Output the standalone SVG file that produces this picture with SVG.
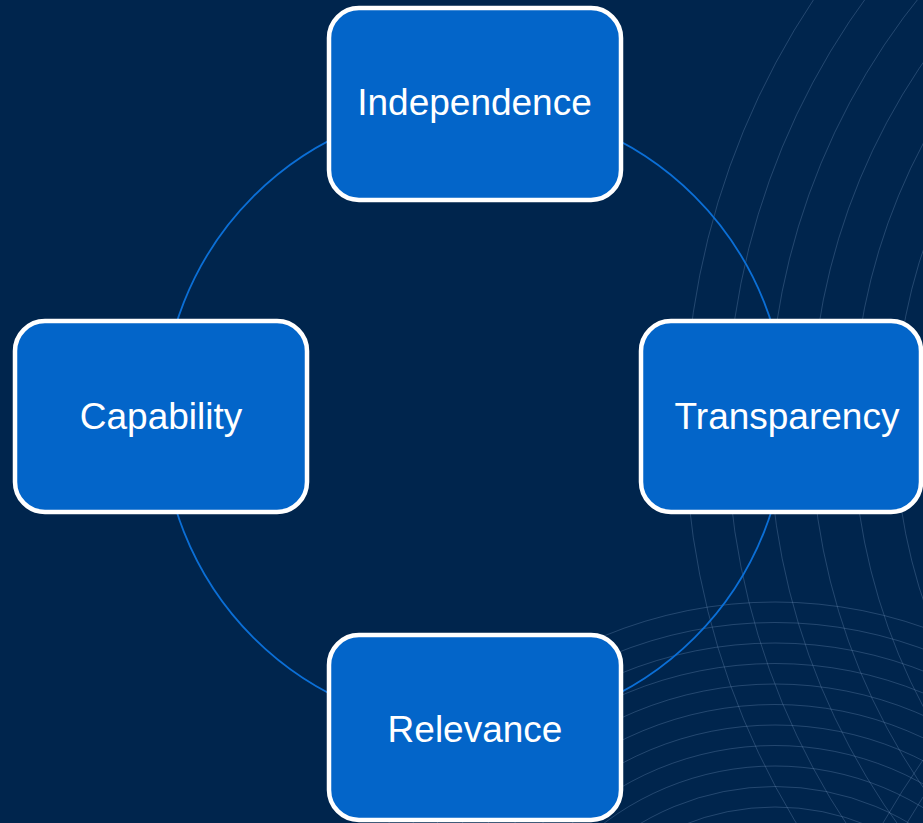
<svg xmlns="http://www.w3.org/2000/svg" width="923" height="823" viewBox="0 0 923 823">
  <style>
    .bg-line { fill: none; stroke: #8fb0d8; stroke-width: 1; opacity: 0.25; }
    .node rect { fill: #0365c9; stroke: #ffffff; stroke-width: 4.5; }
    .node text { fill: #ffffff; font-family: "Liberation Sans", Arial, sans-serif; font-size: 37px; text-anchor: middle; }
    .ring { fill: none; stroke: #0b6fd6; stroke-width: 1.8; }
  </style>
  <rect x="0" y="0" width="923" height="823" fill="#00254d"/>
  <g id="background">
    <circle class="bg-line" cx="1453" cy="425" r="768"/>
    <circle class="bg-line" cx="1453" cy="425" r="726"/>
    <circle class="bg-line" cx="1453" cy="425" r="684"/>
    <circle class="bg-line" cx="1453" cy="425" r="642"/>
    <circle class="bg-line" cx="1453" cy="425" r="600"/>
    <circle class="bg-line" cx="1453" cy="425" r="558"/>
    <circle class="bg-line" cx="1453" cy="425" r="516"/>
    <circle class="bg-line" cx="775" cy="1050" r="448"/>
    <circle class="bg-line" cx="775" cy="1050" r="427.5"/>
    <circle class="bg-line" cx="775" cy="1050" r="407"/>
    <circle class="bg-line" cx="775" cy="1050" r="386.5"/>
    <circle class="bg-line" cx="775" cy="1050" r="366"/>
    <circle class="bg-line" cx="775" cy="1050" r="345.5"/>
    <circle class="bg-line" cx="775" cy="1050" r="325"/>
    <circle class="bg-line" cx="775" cy="1050" r="304.5"/>
    <circle class="bg-line" cx="775" cy="1050" r="284"/>
    <circle class="bg-line" cx="775" cy="1050" r="263.5"/>
    <circle class="bg-line" cx="775" cy="1050" r="243"/>
    <circle class="bg-line" cx="775" cy="1050" r="222.5"/>
    <path class="bg-line" d="M883 823 Q902 790 923 760"/>
    <path class="bg-line" d="M907 823 Q915 810 923 797"/>
  </g>
  <g id="connectors">
    <circle class="ring" cx="474" cy="417" r="312"/>
  </g>
  <g id="node-independence" class="node">
    <rect x="329" y="8" width="292" height="192" rx="30" ry="30"/>
    <text x="474.5" y="115">Independence</text>
  </g>
  <g id="node-capability" class="node">
    <rect x="15" y="321" width="292" height="191" rx="30" ry="30"/>
    <text x="161" y="429">Capability</text>
  </g>
  <g id="node-transparency" class="node">
    <rect x="641" y="321" width="280" height="191" rx="30" ry="30"/>
    <text x="787" y="429">Transparency</text>
  </g>
  <g id="node-relevance" class="node">
    <rect x="329" y="635" width="292" height="185" rx="30" ry="30"/>
    <text x="475" y="742">Relevance</text>
  </g>
</svg>
